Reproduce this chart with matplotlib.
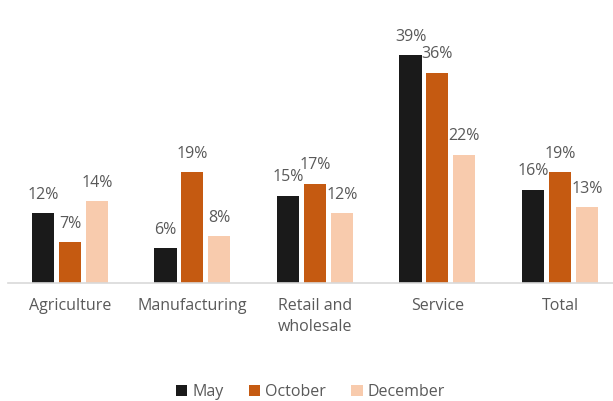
import numpy as np
import matplotlib.pyplot as plt

categories = ['Agriculture', 'Manufacturing', 'Retail and\nwholesale', 'Service', 'Total']
may = [12, 6, 15, 39, 16]
october = [7, 19, 17, 36, 19]
december = [14, 8, 12, 22, 13]

series = [('May', may, '#1a1a1a'), ('October', october, '#c55a11'), ('December', december, '#f8cbad')]

plt.rcParams['font.family'] = ['Open Sans', 'DejaVu Sans']
txt = '#595959'

fig = plt.figure(figsize=(6.13, 4.01), dpi=100)
ax = fig.add_axes([0.013, 0.294, 0.987, 0.69])

x = np.arange(len(categories))
w = 0.18
step = 0.22
for i, (name, vals, col) in enumerate(series):
    pos = x + (i - 1) * step
    bars = ax.bar(pos, vals, w, color=col, label=name, zorder=2)
    for b, v in zip(bars, vals):
        ax.text(b.get_x() + b.get_width() / 2, v + 1.8, f'{v}%', ha='center', va='bottom',
                fontsize=11.5, color=txt)

ax.set_xlim(-0.506, 4.433)
ax.set_ylim(0, 47.4)
ax.set_yticks([])
ax.set_xticks(x)
ax.set_xticklabels(categories, fontsize=11.5, color=txt, linespacing=1.35)
ax.tick_params(axis='x', length=0, pad=11)
for s in ['top', 'right', 'left']:
    ax.spines[s].set_visible(False)
ax.spines['bottom'].set_color('#d9d9d9')
ax.spines['bottom'].set_linewidth(1.2)

ax.legend(loc='lower center', bbox_to_anchor=(0.5, -0.475), ncol=3, frameon=False,
          fontsize=11.5, labelcolor=txt, handlelength=0.7, handleheight=0.7,
          handletextpad=0.3, columnspacing=1.6)

fig.savefig('out.png', dpi=100)
